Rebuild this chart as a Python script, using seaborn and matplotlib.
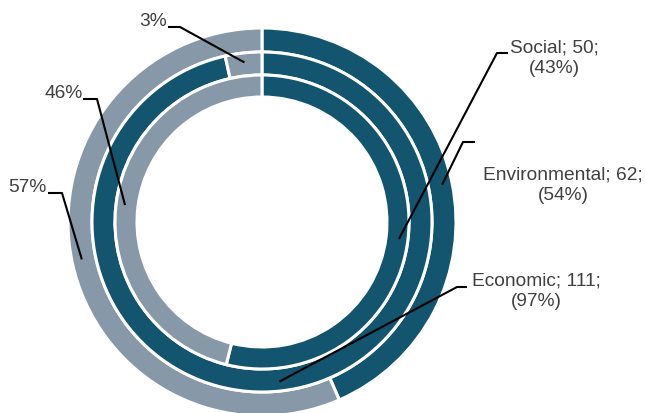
import matplotlib
matplotlib.use("Agg")
import matplotlib.pyplot as plt
import seaborn as sns
import numpy as np

# Rings from outside to inside
categories = ["Social", "Economic", "Environmental"]
counts = [50, 111, 62]
total = 115
share_labels = ["43%", "97%", "54%"]
rest_labels = ["57%", "3%", "46%"]

sns.set_theme(style="white")
plt.rcParams["font.family"] = ["Liberation Sans", "DejaVu Sans"]

dark, light = "#13546F", "#8798A9"
text_color = "#404040"

W, H = 646, 413
fig = plt.figure(figsize=(W / 100, H / 100), dpi=100)
ax = fig.add_axes([0, 0, 1, 1])

cx, cy_px = 262, 222
cy = H - cy_px
radii = [194, 170, 147]
widths = [24, 23, 22]

for n, r, w in zip(counts, radii, widths):
    ax.pie([n, total - n], colors=[dark, light], radius=r, center=(cx, cy),
           startangle=90, counterclock=False, frame=True,
           wedgeprops=dict(width=w, edgecolor="white", linewidth=2.2))

ax.set_xlim(0, W)
ax.set_ylim(0, H)
ax.set_axis_off()


def anchor(ring, dark_part):
    n = counts[ring]
    frac = n / total
    if dark_part:
        theta = np.deg2rad(frac * 360 / 2)
    else:
        theta = np.deg2rad(frac * 360 + (1 - frac) * 360 / 2)
    r = radii[ring] - widths[ring] / 2 + 2
    return cx + r * np.sin(theta), cy + r * np.cos(theta)


def leader(start, elbow, end):
    xs = [start[0], elbow[0], end[0]]
    ys = [H - start[1], H - elbow[1], end[1]]
    ax.plot(xs, ys, color="black", lw=1.5, solid_capstyle="butt", zorder=5)


# category labels: (category, text pos, leader start, elbow, ring the leader points at)
dark_layout = [
    (0, (554, 58), (508, 53), (497, 53), 2),
    (2, (563, 185), (475, 142), (463, 142), 0),
    (1, (536, 291), (467, 287), (457, 287), 1),
]
for k, tp, s, e, ring in dark_layout:
    txt = f"{categories[k]}; {counts[k]};\n({share_labels[k]})"
    ax.text(tp[0], H - tp[1], txt, ha="center", va="center", fontsize=13.8,
            color=text_color, linespacing=1.25)
    leader(s, e, anchor(ring, True))

# labels for the remaining share of each ring
rest_layout = [
    ((27, 187), (48, 193), (62, 193)),
    ((153, 21), (168, 27), (180, 27)),
    ((64, 94), (83, 99), (97, 99)),
]
for i, (tp, s, e) in enumerate(rest_layout):
    ax.text(tp[0], H - tp[1], rest_labels[i], ha="center", va="center",
            fontsize=13.8, color=text_color)
    leader(s, e, anchor(i, False))

fig.savefig("out.png", dpi=100)
